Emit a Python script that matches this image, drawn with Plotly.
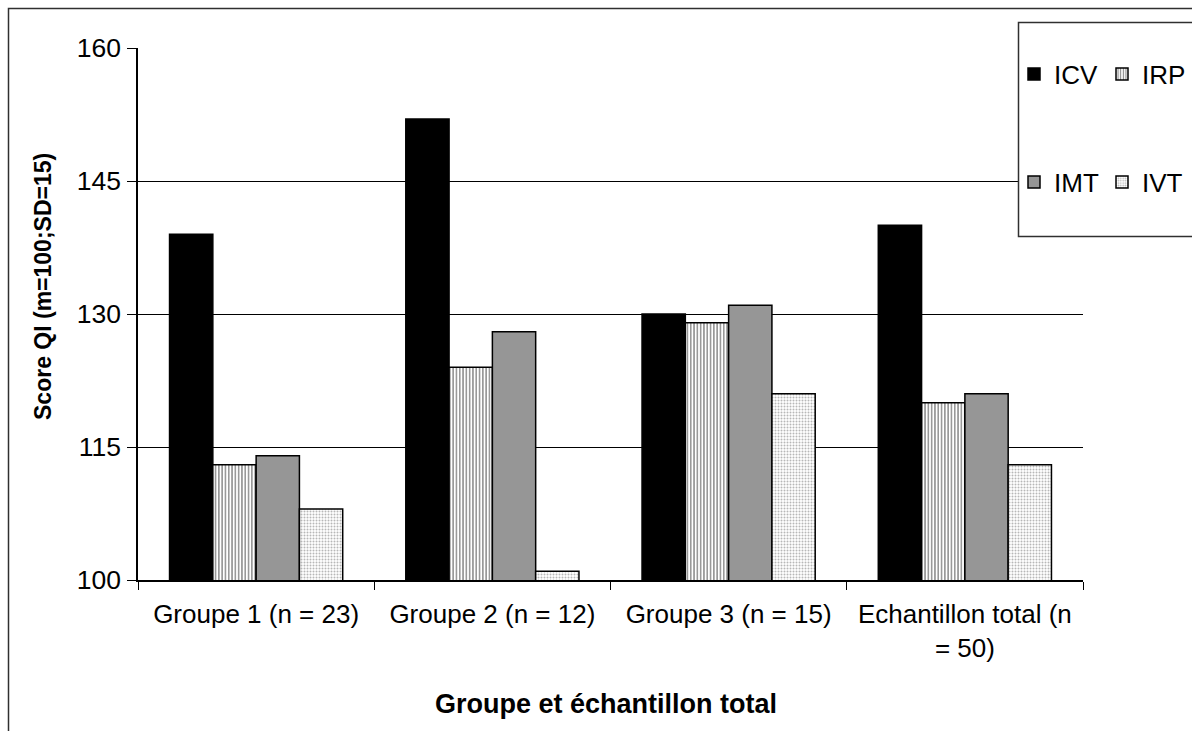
import plotly.graph_objects as go

# Categories and index scores
groups = ["Groupe 1 (n = 23)", "Groupe 2 (n = 12)", "Groupe 3 (n = 15)", "Echantillon total (n<br>= 50)"]
icv = [139, 152, 130, 140]
irp = [113, 124, 129, 120]
imt = [114, 128, 131, 121]
ivt = [108, 101, 121, 113]

y_ticks = [100, 115, 130, 145, 160]

W, H = 1192, 731
L, R, T, B = 138, 1083, 48, 580  # plot area in pixels
FONT = "Liberation Sans, Arial, sans-serif"


def px_x(p):
    return (p - L) / (R - L)


def px_y(p):
    return (B - p) / (B - T)


fig = go.Figure()
fig.add_trace(go.Bar(name="ICV", x=groups, y=icv, legend="legend",
                     marker=dict(color="black", line=dict(color="black", width=1.5))))
fig.add_trace(go.Bar(name="IRP", x=groups, y=irp, legend="legend",
                     marker=dict(color="white", line=dict(color="black", width=1.5),
                                 pattern=dict(shape="|", fgcolor="black", bgcolor="white",
                                              size=3.3, solidity=0.4))))
fig.add_trace(go.Bar(name="IMT", x=groups, y=imt, legend="legend2",
                     marker=dict(color="#969696", line=dict(color="black", width=1.5))))
fig.add_trace(go.Bar(name="IVT", x=groups, y=ivt, legend="legend2",
                     marker=dict(color="white", line=dict(color="black", width=1.5),
                                 pattern=dict(shape=".", fgcolor="#707070", bgcolor="white",
                                              size=3, solidity=0.35))))

legend_common = dict(orientation="h", xref="container", yref="container",
                     xanchor="left", yanchor="middle", bgcolor="rgba(0,0,0,0)",
                     borderwidth=0, font=dict(family=FONT, size=26, color="black"),
                     entrywidth=43, entrywidthmode="pixels", traceorder="normal")

fig.update_layout(
    width=W, height=H,
    margin=dict(l=L, r=W - R, t=T, b=H - B, autoexpand=False),
    paper_bgcolor="white", plot_bgcolor="white",
    barmode="group", bargap=0.267, bargroupgap=0,
    showlegend=True,
    legend=dict(x=1014 / W, y=1 - 74 / H, **legend_common),
    legend2=dict(x=1014 / W, y=1 - 182 / H, **legend_common),
    font=dict(family=FONT, color="black"),
    xaxis=dict(showgrid=False, showline=True, linecolor="black", linewidth=1.5,
               ticks="outside", tickson="boundaries", ticklen=8, tickcolor="black",
               ticklabelstandoff=10,
               tickfont=dict(family=FONT, size=26, color="black"), fixedrange=True),
    yaxis=dict(range=[100, 160], tickvals=y_ticks, showgrid=True, gridcolor="black",
               gridwidth=1, showline=True, linecolor="black", linewidth=1.5,
               ticks="outside", ticklen=9, tickcolor="black", zeroline=False,
               ticklabelstandoff=1,
               tickfont=dict(family=FONT, size=26.5, color="black")),
    shapes=[
        # outer chart frame
        dict(type="rect", xref="paper", yref="paper",
             x0=px_x(8.5), x1=px_x(1260), y0=px_y(770), y1=px_y(8.5),
             line=dict(color="#303030", width=1.5), fillcolor="rgba(0,0,0,0)", layer="below"),
        # legend frame
        dict(type="rect", xref="paper", yref="paper",
             x0=px_x(1018.5), x1=px_x(1260), y0=px_y(236.5), y1=px_y(22.5),
             line=dict(color="#303030", width=1.5), fillcolor="white", layer="above"),
    ],
    annotations=[
        dict(text="<b>Score QI (m=100;SD=15)</b>", textangle=-90, showarrow=False,
             xref="paper", yref="paper", x=px_x(43), y=px_y(287),
             xanchor="center", yanchor="middle",
             font=dict(family=FONT, size=23, color="black")),
        dict(text="<b>Groupe et échantillon total</b>", showarrow=False,
             xref="paper", yref="paper", x=px_x(606), y=px_y(704),
             xanchor="center", yanchor="middle",
             font=dict(family=FONT, size=27, color="black")),
    ],
)

fig.write_html("out.html")
